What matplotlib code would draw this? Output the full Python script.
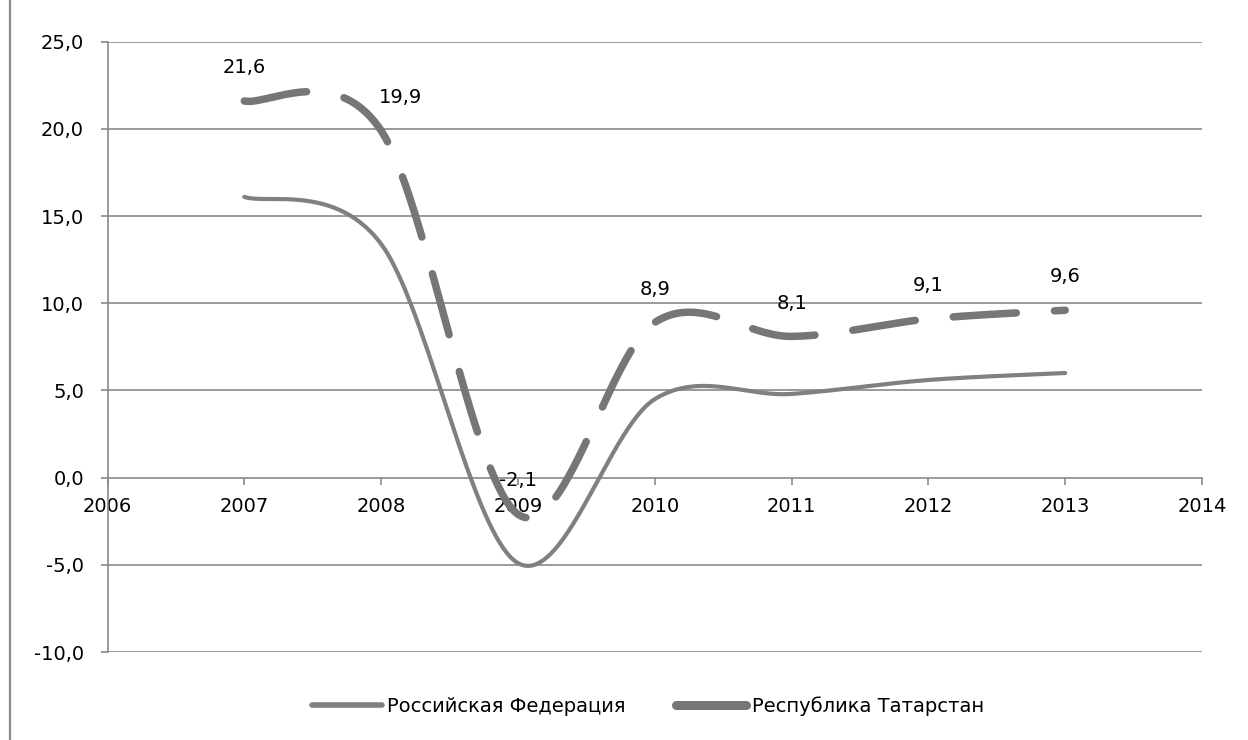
import matplotlib
matplotlib.use("Agg")
import matplotlib.pyplot as plt
import numpy as np
from matplotlib.lines import Line2D

plt.rcParams["font.family"] = ["DejaVu Sans"]
plt.rcParams["lines.scale_dashes"] = False

years = [2007, 2008, 2009, 2010, 2011, 2012, 2013]
rf_values = [16.1, 13.4, -4.9, 4.5, 4.8, 5.6, 6.0]
rt_values = [21.6, 19.9, -2.1, 8.9, 8.1, 9.1, 9.6]
series_names = ["Российская Федерация", "Республика Татарстан"]
y_ticks = [-10, -5, 0, 5, 10, 15, 20, 25]
x_ticks = [2006, 2007, 2008, 2009, 2010, 2011, 2012, 2013, 2014]

FS = 14
GRID = "#898989"


def excel_smooth(x, y, n=80):
    # Bezier smoothing like Excel's "smoothed line"
    pts = np.column_stack([x, y]).astype(float)
    out = [pts[0]]
    t = np.linspace(0, 1, n)[1:, None]
    for i in range(len(pts) - 1):
        p0 = pts[i - 1] if i > 0 else pts[i]
        p1, p2 = pts[i], pts[i + 1]
        p3 = pts[i + 2] if i + 2 < len(pts) else pts[i + 1]
        c1 = p1 + (p2 - p0) / 6
        c2 = p2 - (p3 - p1) / 6
        seg = (1 - t) ** 3 * p1 + 3 * (1 - t) ** 2 * t * c1 + 3 * (1 - t) * t ** 2 * c2 + t ** 3 * p2
        out.extend(seg)
    return np.array(out)


fig = plt.figure(figsize=(12.48, 7.40), dpi=100)
ax = fig.add_axes([107.5 / 1248, 1 - 652 / 740, (1202 - 107.5) / 1248, (652 - 41.7) / 740])

# outer chart border on the left
fig.add_artist(Line2D([10 / 1248, 10 / 1248], [0, 1], color="#8c8c8c", lw=1.6,
                      transform=fig.transFigure))

ax.set_xlim(2006, 2014)
ax.set_ylim(-10, 25)
for v in y_ticks:
    if v != 0:
        ax.axhline(v, color=GRID, lw=1.2, zorder=0)

rf = excel_smooth(years, rf_values)
rt = excel_smooth(years, rt_values)
ax.plot(rf[:, 0], rf[:, 1], color="#808080", lw=3.0, solid_capstyle="round", zorder=3)
ln, = ax.plot(rt[:, 0], rt[:, 1], color="#767676", lw=5.4, dash_capstyle="round", zorder=4)
ln.set_dashes((45.5, 27.5))

for i, (x, y) in enumerate(zip(years, rt_values)):
    dx = 14 if i == 1 else 0
    ax.annotate(f"{y:.1f}".replace(".", ","), (x, y), xytext=(dx, 24),
                textcoords="offset points", ha="center", va="center", fontsize=FS, zorder=5)

for s in ["top", "right"]:
    ax.spines[s].set_visible(False)
ax.spines["left"].set_color(GRID)
ax.spines["left"].set_linewidth(1.2)
ax.spines["bottom"].set_position(("data", 0))
ax.spines["bottom"].set_color(GRID)
ax.spines["bottom"].set_linewidth(1.2)

ax.set_xticks(x_ticks)
ax.set_xticklabels([str(v) for v in x_ticks], fontsize=FS)
ax.set_yticks(y_ticks)
ax.set_yticklabels([f"{v:.1f}".replace(".", ",") for v in y_ticks], fontsize=FS)
ax.tick_params(axis="x", direction="out", length=5, width=1.2, color=GRID, pad=9)
ax.tick_params(axis="y", direction="out", length=5, width=1.2, color=GRID, pad=12)

handles = [
    Line2D([], [], color="#808080", lw=4.0, solid_capstyle="round"),
    Line2D([], [], color="#767676", lw=6.5, solid_capstyle="round"),
]
fig.legend(handles, series_names, loc="center", bbox_to_anchor=(648 / 1248, 1 - 706 / 740),
           ncol=2, frameon=False, fontsize=FS, handlelength=3.6, handletextpad=0.3,
           columnspacing=2.6)

fig.savefig("out.png", dpi=100)
